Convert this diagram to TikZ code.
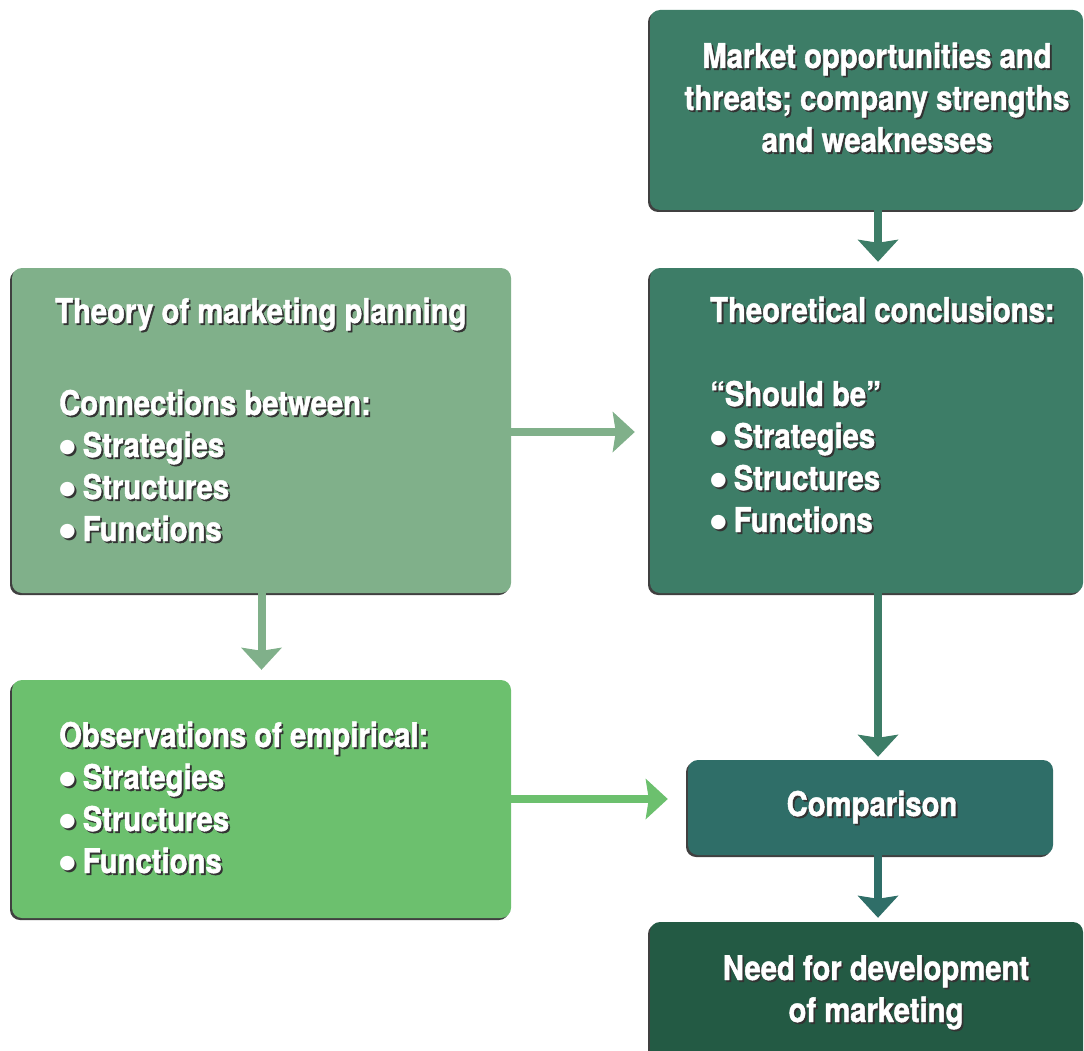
\documentclass[tikz,border=0pt]{standalone}
\usepackage{fontspec}
\setmainfont[FakeStretch=0.86, BoldFeatures={FakeBold=1.3}]{TeX Gyre Heros}
\newfontfamily\symf{DejaVu Sans}
\usetikzlibrary{arrows.meta,shadows}
\definecolor{cA}{RGB}{61,125,103}
\definecolor{cC}{RGB}{128,176,138}
\definecolor{cD}{RGB}{108,192,110}
\definecolor{cE}{RGB}{47,110,104}
\definecolor{cF}{RGB}{35,90,68}
\setlength{\tabcolsep}{0pt}
\newcommand\bul{\raisebox{4.5pt}{\symf\fontsize{19}{19}\selectfont ●}\hspace{7pt}}
\newcommand\shtxt[2]{%
  \makebox[0pt][l]{\kern1.8pt\raisebox{-1.8pt}{\color{black!80}\begin{tabular}[t]{#1}#2\end{tabular}}}%
  \begin{tabular}[t]{#1}#2\end{tabular}}
\tikzset{
  box/.style={rounded corners=10pt, inner sep=0pt,
    drop shadow={shadow xshift=-2pt, shadow yshift=-2pt, opacity=0.75, fill=black}},
  txt/.style={inner sep=0pt, text=white, font=\fontsize{34}{42}\selectfont\bfseries},
  arr/.style={line width=8pt, -{Stealth[width=40pt,length=22pt,inset=3pt]}},
}
\begin{document}
\begin{tikzpicture}[x=1pt,y=-1pt]
\useasboundingbox (0,0) rectangle (1084,1051);
\coordinate (axis) at (878,0);
% boxes
\node[box, fill=cA, minimum width=433pt, minimum height=200pt] (A) at (866.5,110) {};
\node[box, fill=cA, minimum width=433pt, minimum height=325pt] (B) at (866.5,430.5) {};
\node[box, fill=cC, minimum width=499pt, minimum height=325pt] (C) at (261.5,430.5) {};
\node[box, fill=cD, minimum width=499pt, minimum height=238pt] (D) at (261.5,799) {};
\node[box, fill=cE, minimum width=365pt, minimum height=95pt] (E) at (870.5,807.5) {};
\node[box, fill=cF, minimum width=433pt, minimum height=150pt] (F) at (866.5,997) {};
% texts
\node[txt, anchor=base] (tA) at (877,68) {\shtxt{c}{Market opportunities and\\ threats; company strengths\\ and weaknesses}};
\node[txt, anchor=base west] (tB) at (710,322) {\shtxt{l}{Theoretical conclusions:\\[42pt] “Should be”\\ \bul Strategies\\ \bul Structures\\ \bul Functions}};
\node[txt, anchor=base west] (tC1) at (55,323) {\shtxt{l}{Theory of marketing planning}};
\node[txt, anchor=base west] (tC2) at (59,415) {\shtxt{l}{Connections between:\\ \bul Strategies\\ \bul Structures\\ \bul Functions}};
\node[txt, anchor=base west] (tD) at (59,747) {\shtxt{l}{Observations of empirical:\\ \bul Strategies\\ \bul Structures\\ \bul Functions}};
\node[txt, anchor=base] (tE) at (872,816) {\shtxt{c}{Comparison}};
\node[txt, anchor=base] (tF) at (876,980) {\shtxt{c}{Need for development\\ of marketing}};
% arrows
\draw[arr, cA] (A.south -| axis) -- ([yshift=6pt]B.north -| axis);
\draw[arr, cA] (B.south -| axis) -- ([yshift=3pt]E.north -| axis);
\draw[arr, cE] (E.south -| axis) -- ([yshift=4pt]F.north -| axis);
\draw[arr, cC] ([yshift=-1.5pt]C.east) -- ([xshift=-15pt,yshift=-1.5pt]C.east -| B.west);
\draw[arr, cC] (C.south) -- ([yshift=10pt]D.north);
\draw[arr, cD] (D.east) -- ([xshift=-20pt]D.east -| E.west);
\end{tikzpicture}
\end{document}
